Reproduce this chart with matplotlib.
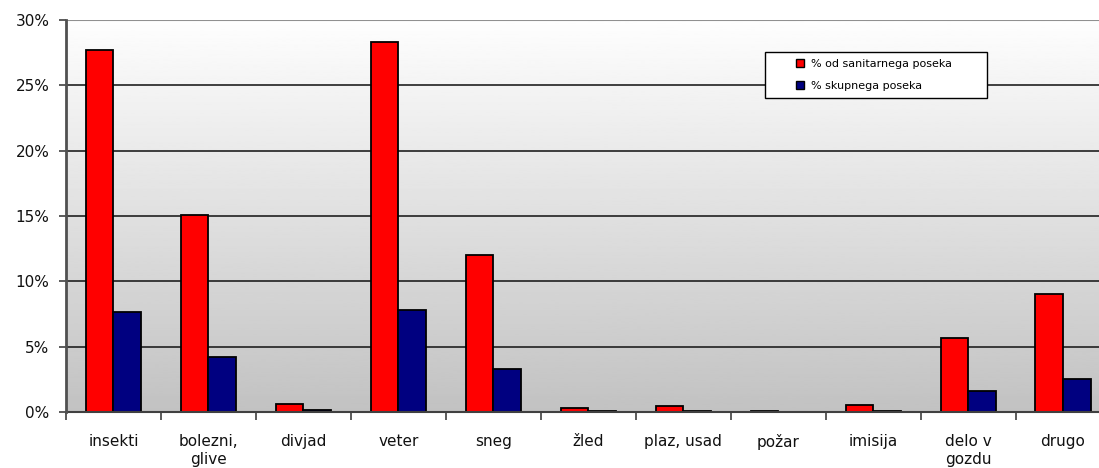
import numpy as np
import matplotlib.pyplot as plt
from matplotlib.patches import Rectangle
from matplotlib.ticker import FixedLocator, PercentFormatter

plt.rcParams['font.family'] = ['DejaVu Sans']

categories = ['insekti', 'bolezni,\nglive', 'divjad', 'veter', 'sneg', 'žled',
              'plaz, usad', 'požar', 'imisija', 'delo v\ngozdu', 'drugo']
sanitarni = [27.7, 15.1, 0.6, 28.3, 12.0, 0.3, 0.46, 0.06, 0.5, 5.7, 9.05]
skupni = [7.65, 4.2, 0.13, 7.8, 3.3, 0.06, 0.1, 0.03, 0.1, 1.6, 2.5]

W, H = 1099, 468
fig = plt.figure(figsize=(W / 100, H / 100), dpi=100)
ax = fig.add_axes([66 / W, 56 / H, 1044.5 / W, 392 / H])

x = np.arange(len(categories))
w = 0.29

# gradient background, white on top, gray at the bottom
grad = np.linspace(0.76, 0.995, 256).reshape(-1, 1)
ax.imshow(grad, cmap='gray', vmin=0, vmax=1, aspect='auto', origin='lower',
          extent=[-0.5, 10.5, 0, 30], zorder=0)

for yv in [5, 10, 15, 20, 25]:
    ax.axhline(yv, color='#202020', lw=1.2, zorder=1)
ax.axhline(30, color='#909090', lw=1.5, zorder=1)

ax.bar(x - w / 2, sanitarni, w, color='#ff0000', edgecolor='black', lw=1.3,
       label='% od sanitarnega poseka', zorder=2)
ax.bar(x + w / 2, skupni, w, color='#000080', edgecolor='black', lw=1.3,
       label='% skupnega poseka', zorder=2)

ax.set_xlim(-0.5, 10.5)
ax.set_ylim(0, 30)
ax.set_yticks(range(0, 31, 5))
ax.yaxis.set_major_formatter(PercentFormatter(decimals=0))
ax.tick_params(axis='y', length=5, width=1.2, color='#404040', labelsize=11,
               pad=7, labelcolor='#111111')

ax.xaxis.set_major_locator(FixedLocator(np.arange(-0.5, 11, 1)))
ax.xaxis.set_minor_locator(FixedLocator(x))
ax.set_xticklabels([], minor=False)
ax.set_xticklabels(categories, minor=True)
ax.tick_params(axis='x', which='major', length=6, width=1.2, color='#404040')
ax.tick_params(axis='x', which='minor', length=0, labelsize=11, pad=16,
               labelcolor='#111111')
for t in ax.get_xticklabels(minor=True):
    t.set_multialignment('center')
    t.set_linespacing(1.25)

for s in ['top', 'right']:
    ax.spines[s].set_visible(False)
ax.spines['left'].set_color('#505050')
ax.spines['left'].set_linewidth(2)
ax.spines['bottom'].set_color('#404040')
ax.spines['bottom'].set_linewidth(1.5)
ax.spines['left'].set_zorder(3)

# legend box drawn separately so padding can match the original
box = Rectangle((765 / W, 1 - 98 / H), 222 / W, 46 / H, transform=fig.transFigure,
                facecolor='white', edgecolor='black', lw=1, zorder=4)
fig.add_artist(box)
leg = fig.legend(loc='upper left', bbox_to_anchor=(796 / W, 1 - 59 / H),
                 fontsize=8, frameon=False, handlelength=0.72, handleheight=0.72,
                 borderpad=0, labelspacing=1.1, handletextpad=0.6,
                 borderaxespad=0)
for hnd in leg.legend_handles:
    hnd.set_linewidth(1)
leg.set_zorder(5)

fig.savefig('out.png', dpi=100)
